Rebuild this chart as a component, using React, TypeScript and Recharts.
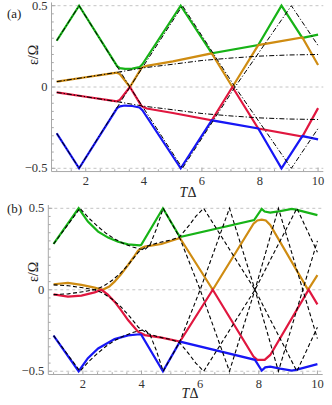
import React from "react";
import { LineChart, Line, XAxis, YAxis, ReferenceLine } from "recharts";

type Pt = [number, number];

const xTicks = [1, 1.5, 2, 2.5, 3, 3.5, 4, 4.5, 5, 5.5, 6, 6.5, 7, 7.5, 8, 8.5, 9, 9.5, 10];
const xLabels = [2, 4, 6, 8, 10];
const yTicks = [
  -0.5, -0.45, -0.4, -0.35, -0.3, -0.25, -0.2, -0.15, -0.1, -0.05, 0,
  0.05, 0.1, 0.15, 0.2, 0.25, 0.3, 0.35, 0.4, 0.45, 0.5,
];
const yLabels = [-0.5, 0, 0.5];
const gridLevels = [-0.5, 0, 0.5];

// panel (a)
const aGreen: Pt[] = [
  [1, 0.285], [1.77, 0.5], [3.08, 0.128], [3.18, 0.116], [3.35, 0.111], [3.6, 0.113],
  [3.85, 0.122], [3.95, 0.14], [5.27, 0.5], [6.34, 0.207], [7.94, 0.258], [8.74, 0.5],
  [9.46, 0.302], [10, 0.322],
];
const aOrange: Pt[] = [
  [1, 0.033], [2, 0.06], [2.9, 0.084], [3.07, 0.088], [3.17, 0.08], [3.26, 0.06],
  [3.52, 0], [3.92, 0.118], [4.1, 0.13], [5, 0.158], [6.34, 0.207], [7.05, 0],
  [7.94, 0.258], [9.46, 0.305], [10, 0.135],
];
const aRed: Pt[] = [
  [1, -0.033], [2, -0.06], [2.9, -0.084], [3.07, -0.088], [3.17, -0.08], [3.26, -0.06],
  [3.52, 0], [3.92, -0.118], [4.1, -0.132], [5, -0.16], [6.34, -0.205], [7.05, 0],
  [7.94, -0.255], [9.46, -0.305], [10, -0.13],
];
const aBlue: Pt[] = [
  [1, -0.285], [1.77, -0.5], [3.08, -0.13], [3.18, -0.119], [3.35, -0.114], [3.6, -0.117],
  [3.85, -0.126], [3.95, -0.143], [5.27, -0.5], [6.34, -0.205], [7.94, -0.255], [8.74, -0.5],
  [9.46, -0.302], [10, -0.322],
];
const aZigUp: Pt[] = [
  [1, 0.285], [1.77, 0.5], [3.52, 0], [5.33, -0.5], [7.14, 0], [9.08, 0.5], [10, 0.255],
];
const aZigDown: Pt[] = [
  [1, -0.285], [1.77, -0.5], [3.52, 0], [5.33, 0.5], [7.14, 0], [9.08, -0.5], [10, -0.255],
];
const aSlowUp: Pt[] = [
  [1, 0.033], [2, 0.06], [3, 0.088], [4, 0.118], [5, 0.14], [6, 0.163], [7, 0.178],
  [8, 0.19], [9, 0.197], [10, 0.2],
];
const aSlowDown: Pt[] = [
  [1, -0.033], [2, -0.06], [3, -0.088], [4, -0.118], [5, -0.14], [6, -0.163], [7, -0.178],
  [8, -0.19], [9, -0.197], [10, -0.2],
];

// panel (b)
const bGreen: Pt[] = [
  [1, 0.281], [1.855, 0.5], [2.17, 0.418], [2.52, 0.357], [2.86, 0.32], [3.2, 0.295],
  [3.54, 0.279], [3.94, 0.273], [3.99, 0.276], [4.73, 0.5], [5.31, 0.324], [7.84, 0.428],
  [8.1, 0.496], [8.2, 0.48], [8.39, 0.474], [8.73, 0.483], [9.13, 0.496], [9.3, 0.49],
  [10, 0.458],
];
const bOrange: Pt[] = [
  [1, 0.034], [1.49, 0.042], [1.95, 0.03], [2.4, 0.013], [2.67, 0], [2.9, 0.02],
  [3.08, 0.05], [3.3, 0.095], [3.54, 0.152], [3.75, 0.205], [3.88, 0.24], [4, 0.256],
  [4.11, 0.265], [4.68, 0.281], [5.31, 0.318], [6.43, 0], [7.82, 0.405], [7.95, 0.425],
  [8.1, 0.43], [8.24, 0.425], [8.39, 0.398], [9.68, 0], [10, 0.09],
];
const bRed: Pt[] = [
  [1, -0.028], [1.49, -0.042], [1.95, -0.036], [2.4, -0.016], [2.64, 0], [2.85, -0.03],
  [3.08, -0.073], [3.3, -0.125], [3.54, -0.186], [3.75, -0.23], [3.88, -0.257], [4.11, -0.278],
  [4.68, -0.294], [5.31, -0.318], [6.43, 0], [7.82, -0.41], [7.95, -0.43], [8.2, -0.43],
  [8.39, -0.4], [9.7, 0], [10, -0.09],
];
const bBlue: Pt[] = [
  [1, -0.282], [1.855, -0.5], [2.17, -0.42], [2.52, -0.36], [2.86, -0.325], [3.08, -0.303],
  [3.54, -0.28], [3.94, -0.273], [3.99, -0.276], [4.73, -0.5], [5.31, -0.318], [7.87, -0.43],
  [8.1, -0.496], [8.22, -0.476], [8.39, -0.472], [8.73, -0.484], [9.13, -0.496], [9.3, -0.49],
  [10, -0.456],
];
const bArcUp: Pt[] = [
  [1, 0.281], [1.9, 0.5], [2.2, 0.44], [2.5, 0.39], [2.8, 0.345], [3.1, 0.31], [3.4, 0.283],
  [3.7, 0.262], [3.95, 0.25], [4.12, 0.247], [4.3, 0.28], [4.5, 0.37], [4.74, 0.5],
  [5.3, 0.32], [6, 0], [7, -0.5], [7.87, 0], [8.67, 0.5], [10, -0.3],
];
const bArcDown: Pt[] = [
  [1, -0.281], [1.9, -0.5], [2.2, -0.44], [2.5, -0.39], [2.8, -0.345], [3.1, -0.31], [3.4, -0.283],
  [3.7, -0.262], [3.95, -0.25], [4.12, -0.247], [4.3, -0.28], [4.5, -0.37], [4.74, -0.5],
  [5.3, -0.32], [6, 0], [7, 0.5], [7.87, 0], [8.67, -0.5], [10, 0.3],
];
const bRiseUp: Pt[] = [
  [1, -0.03], [1.5, -0.025], [2, -0.012], [2.4, 0], [2.7, 0.022], [3, 0.058], [3.3, 0.105],
  [3.6, 0.165], [3.9, 0.232], [4.2, 0.268], [4.6, 0.29], [5, 0.305], [5.3, 0.325], [5.6, 0.39],
  [5.85, 0.45], [6.12, 0.5], [7.87, 0], [9.3, -0.5], [10, -0.23],
];
const bRiseDown: Pt[] = [
  [1, 0.03], [1.5, 0.025], [2, 0.012], [2.4, 0], [2.7, -0.022], [3, -0.058], [3.3, -0.105],
  [3.6, -0.165], [3.9, -0.232], [4.2, -0.268], [4.6, -0.29], [5, -0.305], [5.3, -0.325], [5.6, -0.39],
  [5.85, -0.45], [6.12, -0.5], [7.87, 0], [9.3, 0.5], [10, 0.23],
];

const GREEN = "#17b317";
const ORANGE = "#cf8c12";
const RED = "#e0173f";
const BLUE = "#1717f5";
const FRAME = "#a8a8a8";
const INK = "#333";
const FONT = "Liberation Serif, DejaVu Serif, serif";

const pts = (a: Pt[]) => a.map(([x, y]) => ({ x, y }));

const BottomTick = (p: any) => {
  const v = p.payload.value;
  const major = xLabels.includes(v);
  return (
    <g>
      <line x1={p.x} x2={p.x} y1={p.y} y2={p.y - (major ? 4 : 2.3)} stroke={FRAME} />
      {major && (
        <text x={p.x} y={p.y + 13} textAnchor="middle" fontSize={12.5} fill={INK} fontFamily={FONT}>
          {v}
        </text>
      )}
    </g>
  );
};
const TopTick = (p: any) => {
  const major = xLabels.includes(p.payload.value);
  return <line x1={p.x} x2={p.x} y1={p.y} y2={p.y + (major ? 4 : 2.3)} stroke={FRAME} />;
};
const LeftTick = (p: any) => {
  const v = p.payload.value;
  const major = yLabels.includes(v);
  return (
    <g>
      <line x1={p.x} x2={p.x + (major ? 4 : 2.3)} y1={p.y} y2={p.y} stroke={FRAME} />
      {major && (
        <text x={p.x - 4} y={p.y + 4} textAnchor="end" fontSize={12.5} fill={INK} fontFamily={FONT}>
          {v < 0 ? "\u2212" + Math.abs(v) : String(v)}
        </text>
      )}
    </g>
  );
};
const RightTick = (p: any) => {
  const major = yLabels.includes(p.payload.value);
  return <line x1={p.x} x2={p.x - (major ? 4 : 2.3)} y1={p.y} y2={p.y} stroke={FRAME} />;
};

type Series = { data: Pt[]; color: string; width: number; dash?: string };

function Panel(props: {
  top: number;
  height: number;
  mTop: number;
  mRight: number;
  yWidth: number;
  xHeight: number;
  series: Series[];
}) {
  const { top, height, mTop, mRight, yWidth, xHeight, series } = props;
  return (
    <div style={{ position: "absolute", left: 0, top }}>
      <LineChart width={332} height={height} margin={{ top: mTop, right: mRight, bottom: 0, left: 0 }}>
        <XAxis
          type="number"
          dataKey="x"
          domain={[0.82, 10.18]}
          allowDataOverflow
          ticks={xTicks}
          interval={0}
          tickSize={0}
          tickMargin={0}
          height={xHeight}
          axisLine={{ stroke: FRAME }}
          tickLine={false}
          tick={(p: any) => <BottomTick {...p} />}
        />
        <XAxis
          xAxisId="top"
          orientation="top"
          type="number"
          dataKey="x"
          domain={[0.82, 10.18]}
          allowDataOverflow
          ticks={xTicks}
          interval={0}
          tickSize={0}
          tickMargin={0}
          height={0}
          axisLine={{ stroke: FRAME }}
          tickLine={false}
          tick={(p: any) => <TopTick {...p} />}
        />
        <YAxis
          type="number"
          domain={[-0.52, 0.52]}
          allowDataOverflow
          ticks={yTicks}
          interval={0}
          tickSize={0}
          tickMargin={0}
          width={yWidth}
          axisLine={{ stroke: FRAME }}
          tickLine={false}
          tick={(p: any) => <LeftTick {...p} />}
        />
        <YAxis
          yAxisId="right"
          orientation="right"
          type="number"
          domain={[-0.52, 0.52]}
          allowDataOverflow
          ticks={yTicks}
          interval={0}
          tickSize={0}
          tickMargin={0}
          width={0}
          axisLine={{ stroke: FRAME }}
          tickLine={false}
          tick={(p: any) => <RightTick {...p} />}
        />
        {gridLevels.map((g) => (
          <ReferenceLine key={g} y={g} stroke="#c4c4c4" strokeDasharray="3 3" />
        ))}
        {series.map((s, i) => (
          <Line
            key={i}
            data={pts(s.data)}
            dataKey="y"
            type="linear"
            stroke={s.color}
            strokeWidth={s.width}
            strokeDasharray={s.dash}
            dot={false}
            activeDot={false}
            isAnimationActive={false}
          />
        ))}
      </LineChart>
    </div>
  );
}

const DASH_DOT = "5 2 1.2 2";
const DASHED = "4 2.5";

const seriesA: Series[] = [
  { data: aGreen, color: GREEN, width: 2.2 },
  { data: aOrange, color: ORANGE, width: 2.2 },
  { data: aRed, color: RED, width: 2.2 },
  { data: aBlue, color: BLUE, width: 2.2 },
  { data: aZigUp, color: "#000", width: 1, dash: DASH_DOT },
  { data: aZigDown, color: "#000", width: 1, dash: DASH_DOT },
  { data: aSlowUp, color: "#000", width: 1, dash: DASH_DOT },
  { data: aSlowDown, color: "#000", width: 1, dash: DASH_DOT },
];

const seriesB: Series[] = [
  { data: bGreen, color: GREEN, width: 2.2 },
  { data: bOrange, color: ORANGE, width: 2.2 },
  { data: bRed, color: RED, width: 2.2 },
  { data: bBlue, color: BLUE, width: 2.2 },
  { data: bArcUp, color: "#000", width: 1.1, dash: DASHED },
  { data: bArcDown, color: "#000", width: 1.1, dash: DASHED },
  { data: bRiseUp, color: "#000", width: 1.1, dash: DASHED },
  { data: bRiseDown, color: "#000", width: 1.1, dash: DASHED },
];

export default function App() {
  return (
    <div style={{ position: "absolute", left: 0, top: 0, width: 332, height: 405, background: "#fff" }}>
      <Panel top={0} height={200} mTop={2.45} mRight={8.7} yWidth={51.5} xHeight={28.45} series={seriesA} />
      <Panel top={195} height={210} mTop={10.04} mRight={9.3} yWidth={48.3} xHeight={30.5} series={seriesB} />
      <svg
        width={332}
        height={405}
        style={{ position: "absolute", left: 0, top: 0, pointerEvents: "none" }}
        fontFamily={FONT}
        fill="#222"
      >
        <text x={7} y={17.5} fontSize={13}>(a)</text>
        <text x={7} y={213} fontSize={13}>(b)</text>
        <text transform="translate(38,55) rotate(-90)" textAnchor="middle" fontSize={14}>
          ε/Ω
        </text>
        <text transform="translate(38,272) rotate(-90)" textAnchor="middle" fontSize={14}>
          ε/Ω
        </text>
        <text x={188} y={197} textAnchor="middle" fontSize={14}>
          <tspan fontStyle="italic">T</tspan>Δ
        </text>
        <text x={190} y={398} textAnchor="middle" fontSize={14}>
          <tspan fontStyle="italic">T</tspan>Δ
        </text>
      </svg>
    </div>
  );
}
